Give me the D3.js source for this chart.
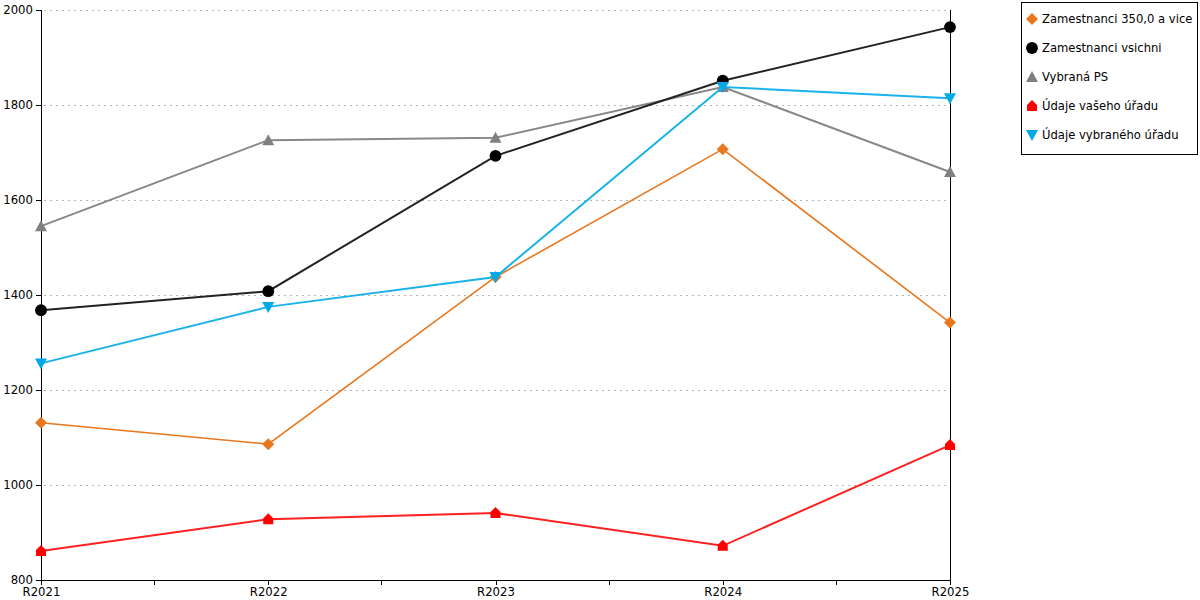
<!DOCTYPE html>
<html><head><meta charset="utf-8">
<script src="https://cdn.jsdelivr.net/npm/d3@7"></script>
<style>body{margin:0;background:#fff;}svg{display:block;font-family:"DejaVu Sans",sans-serif;}</style>
</head><body>
<svg id="c" width="1200" height="600"></svg>
<script>
const categories = ["R2021","R2022","R2023","R2024","R2025"];
const yTicks = [800,1000,1200,1400,1600,1800,2000];
const seriesNames = ["Zamestnanci 350,0 a vice","Zamestnanci vsichni","Vybraná PS","Údaje vašeho úřadu","Údaje vybraného úřadu"];
const seriesColors = ["#e8771e","#000000","#808080","#ff0000","#00a9e8"];
const lineColors = ["#e8771e","#222222","#888888","#ff2020","#1ab2ea"];
const markerTypes = ["diamond","circle","triangleUp","house","triangleDown"];
const vals350 = [1131,1086,1438,1707,1342];
const valsAll = [1368,1408,1693,1851,1964];
const valsPS = [1545,1726,1731,1838,1659];
const valsVas = [861,928,941,872,1084];
const valsVyb = [1256,1375,1438,1838,1814];
const seriesValues = [vals350,valsAll,valsPS,valsVas,valsVyb];
const drawOrder = [2,1,0,4,3];

const svg = d3.select("#c");
const x = d3.scalePoint().domain(categories).range([41,950]);
const y = d3.scaleLinear().domain([800,2000]).range([580,10]);

// grid
svg.append("g").selectAll("line").data(yTicks.filter(t=>t>800)).join("line")
  .attr("x1",44).attr("x2",950).attr("y1",d=>y(d)).attr("y2",d=>y(d))
  .attr("stroke","#b4b4b4").attr("stroke-dasharray","2,4").attr("shape-rendering","crispEdges");

// y axis
const ya = svg.append("g").attr("transform","translate(41,0)")
  .call(d3.axisLeft(y).tickValues(yTicks).tickFormat(d3.format("d")).tickSize(5).tickPadding(3));
ya.select(".domain").attr("d","M0,10V580").attr("shape-rendering","crispEdges");
ya.selectAll(".tick line").attr("shape-rendering","crispEdges");
ya.selectAll("text").attr("font-size",11.7).attr("font-family","DejaVu Sans").attr("fill","#000");

// x axis
const xa = svg.append("g").attr("transform","translate(0,580)")
  .call(d3.axisBottom(x).tickSize(5).tickPadding(3));
xa.select(".domain").attr("d","M41,0H950").attr("shape-rendering","crispEdges");
xa.selectAll(".tick line").attr("shape-rendering","crispEdges");
xa.selectAll("text").attr("font-size",11.7).attr("font-family","DejaVu Sans").attr("fill","#000");
// minor ticks between categories
const mids = categories.slice(0,-1).map((c,i)=>(x(c)+x(categories[i+1]))/2);
xa.append("g").selectAll("line").data(mids).join("line")
  .attr("x1",d=>d).attr("x2",d=>d).attr("y1",0).attr("y2",5).attr("stroke","#000").attr("shape-rendering","crispEdges");

// right vertical line
svg.append("line").attr("x1",x(categories[4])).attr("x2",x(categories[4]))
  .attr("y1",10).attr("y2",585).attr("stroke","#000").attr("shape-rendering","crispEdges");

function markerPath(type){
  switch(type){
    case "diamond": return "M0,-6L6,0L0,6L-6,0Z";
    case "circle": return d3.symbol().type(d3.symbolCircle).size(110)();
    case "triangleUp": return "M0,-6L6,5L-6,5Z";
    case "triangleDown": return "M0,6L6,-5L-6,-5Z";
    case "house": return "M0,-6L5,-1L5,5L-5,5L-5,-1Z";
  }
}

const line = d3.line().x((d,i)=>x(categories[i])).y(d=>y(d));
drawOrder.forEach(si=>{
  const g = svg.append("g");
  g.append("path").datum(seriesValues[si]).attr("d",line)
    .attr("fill","none").attr("stroke",lineColors[si]).attr("stroke-width",si===0?1.6:2);
  g.selectAll("path.m").data(seriesValues[si]).join("path").attr("class","m")
    .attr("transform",(d,i)=>`translate(${x(categories[i])},${y(d)})`)
    .attr("d",markerPath(markerTypes[si])).attr("fill",seriesColors[si]);
});

// legend
const lg = svg.append("g");
lg.append("rect").attr("x",1021.5).attr("y",2.5).attr("width",176).attr("height",152)
  .attr("fill","#fff").attr("stroke","#000");
seriesNames.forEach((n,i)=>{
  const yy = 19 + i*29;
  lg.append("path").attr("transform",`translate(1032,${yy})`).attr("d",markerPath(markerTypes[i]))
    .attr("fill",seriesColors[i]);
  lg.append("text").attr("x",1042).attr("y",yy+4).attr("font-size",11.6).text(n);
});
</script>
</body></html>
